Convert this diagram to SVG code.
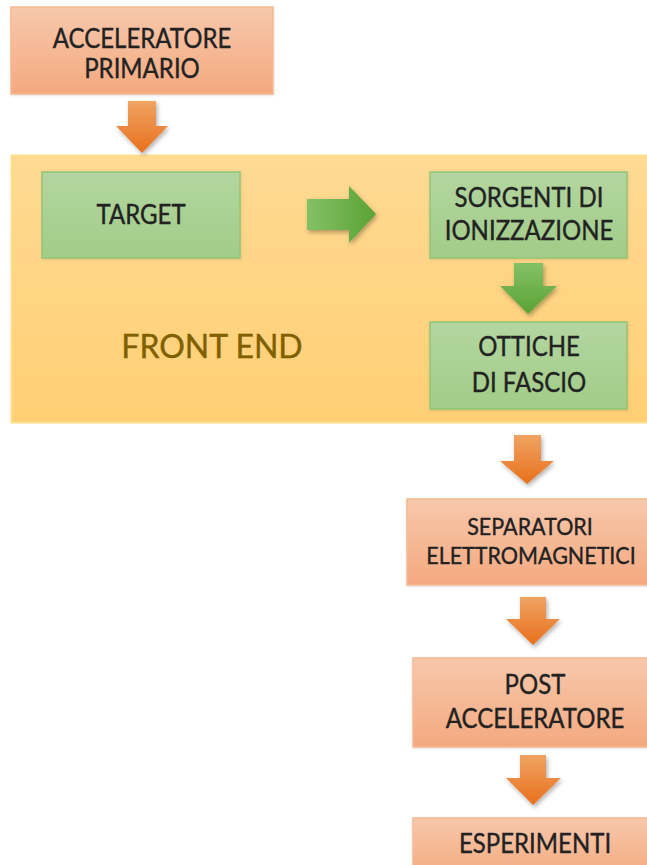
<svg xmlns="http://www.w3.org/2000/svg" width="647" height="865" viewBox="0 0 647 865">
  <defs>
    <linearGradient id="gOrangeBox" x1="0" y1="0" x2="0" y2="1">
      <stop offset="0" stop-color="#F7C8AC"/>
      <stop offset="1" stop-color="#F4A97F"/>
    </linearGradient>
    <linearGradient id="gGreenBox" x1="0" y1="0" x2="0" y2="1">
      <stop offset="0" stop-color="#B3D6A0"/>
      <stop offset="1" stop-color="#A2CC88"/>
    </linearGradient>
    <linearGradient id="gFront" x1="0" y1="0" x2="0" y2="1">
      <stop offset="0" stop-color="#FFDA93"/>
      <stop offset="1" stop-color="#FFCF74"/>
    </linearGradient>
    <linearGradient id="gOrangeArrow" x1="0" y1="0" x2="0" y2="1">
      <stop offset="0" stop-color="#F0A363"/>
      <stop offset="1" stop-color="#E8701C"/>
    </linearGradient>
    <linearGradient id="gGreenArrowH" x1="0" y1="0" x2="1" y2="0">
      <stop offset="0" stop-color="#84C166"/>
      <stop offset="1" stop-color="#5AA234"/>
    </linearGradient>
    <linearGradient id="gGreenArrowV" x1="0" y1="0" x2="0" y2="1">
      <stop offset="0" stop-color="#84C166"/>
      <stop offset="1" stop-color="#5AA234"/>
    </linearGradient>
    <filter id="shadow" x="-30%" y="-30%" width="160%" height="160%">
      <feDropShadow dx="1.5" dy="2.5" stdDeviation="2" flood-color="#000" flood-opacity="0.3"/>
    </filter>
    <filter id="bshadow" x="-10%" y="-10%" width="120%" height="120%">
      <feDropShadow dx="0.5" dy="1" stdDeviation="1" flood-color="#000" flood-opacity="0.12"/>
    </filter>
  </defs>
  <style>
    .txt { font-family: Lato, "Liberation Sans", sans-serif; font-size: 24px; fill: #222222; stroke: #222222; stroke-width: 0.35; text-anchor: middle; }
    .small { font-size: 21.5px; }
    .front { font-family: Lato, "Liberation Sans", sans-serif; font-size: 32px; fill: #7F6000; stroke: #7F6000; stroke-width: 0.4; text-anchor: middle; }
    .obox { fill: url(#gOrangeBox); stroke: #F6B891; stroke-width: 1.5; filter: url(#bshadow); }
    .gbox { fill: url(#gGreenBox); stroke: #93C577; stroke-width: 1.5; filter: url(#bshadow); }
    .oarrow { fill: url(#gOrangeArrow); filter: url(#shadow); }
  </style>

  <g id="front-end">
    <rect x="11.5" y="155.5" width="640" height="267" fill="url(#gFront)" stroke="#FFDF8C" stroke-width="2"/>
    <text class="front" transform="translate(212,358) scale(1,1.05)">FRONT END</text>
  </g>

  <g id="acceleratore-primario">
    <rect class="obox" x="11" y="7" width="262" height="87"/>
    <text class="txt" transform="translate(142,48) scale(1,1.12)">ACCELERATORE</text>
    <text class="txt" transform="translate(142,78) scale(1,1.12)">PRIMARIO</text>
  </g>

  <g id="target">
    <rect class="gbox" x="42" y="172" width="198" height="86"/>
    <text class="txt" transform="translate(141,224) scale(1,1.12)">TARGET</text>
  </g>

  <g id="sorgenti">
    <rect class="gbox" x="430" y="172" width="197" height="86"/>
    <text class="txt" transform="translate(529,207) scale(1,1.12)">SORGENTI DI</text>
    <text class="txt" transform="translate(529,240) scale(1,1.12)">IONIZZAZIONE</text>
  </g>

  <g id="ottiche">
    <rect class="gbox" x="430" y="322" width="197" height="87"/>
    <text class="txt" transform="translate(529,356) scale(1,1.12)">OTTICHE</text>
    <text class="txt" transform="translate(529,392) scale(1,1.12)">DI FASCIO</text>
  </g>

  <g id="separatori">
    <rect class="obox" x="407" y="499" width="245" height="86"/>
    <text class="txt small" transform="translate(530,535) scale(1,1.1)">SEPARATORI</text>
    <text class="txt small" transform="translate(531,564) scale(1,1.1)">ELETTROMAGNETICI</text>
  </g>

  <g id="post-acceleratore">
    <rect class="obox" x="413" y="658" width="240" height="89"/>
    <text class="txt" transform="translate(535,694) scale(1,1.12)">POST</text>
    <text class="txt" transform="translate(535,728) scale(1,1.12)">ACCELERATORE</text>
  </g>

  <g id="esperimenti">
    <rect class="obox" x="413" y="818" width="240" height="60"/>
    <text class="txt" transform="translate(535,853) scale(1,1.12)">ESPERIMENTI</text>
  </g>

  <g id="connectors">
    <polygon class="oarrow" points="128,101 156,101 156,126 168,126 142,153 116,126 128,126"/>
    <polygon fill="url(#gGreenArrowH)" filter="url(#shadow)" points="307,199 349,199 349,186 376,214 349,243 349,230 307,230"/>
    <polygon fill="url(#gGreenArrowV)" filter="url(#shadow)" points="514,263 543,263 543,286 557,286 528,314 500,286 514,286"/>
    <polygon class="oarrow" points="514,435 541,435 541,461 554,461 527,484 500,461 514,461"/>
    <polygon class="oarrow" points="520,597 546,597 546,619 560,619 533,645 506,619 520,619"/>
    <polygon class="oarrow" points="520,755 546,755 546,778 561,778 533,805 506,778 520,778"/>
  </g>
</svg>
